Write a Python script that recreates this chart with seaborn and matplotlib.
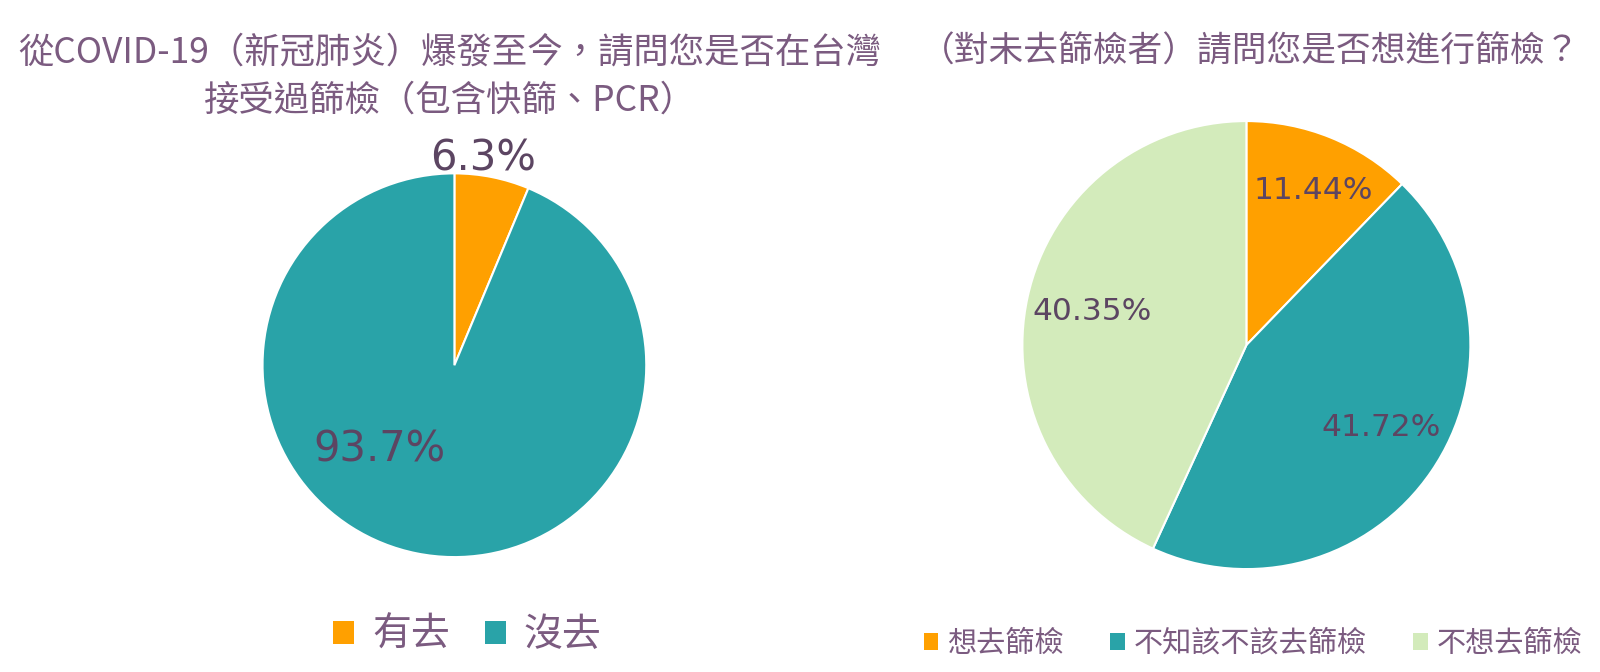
import matplotlib
matplotlib.use("Agg")
import matplotlib.pyplot as plt
from matplotlib.patches import Patch
import seaborn as sns

# 資料
left_labels = ["有去", "沒去"]
left_values = [6.3, 93.7]
right_labels = ["想去篩檢", "不知該不該去篩檢", "不想去篩檢"]
right_values = [11.44, 41.72, 40.35]

left_title = "從COVID-19（新冠肺炎）爆發至今，請問您是否在台灣\n接受過篩檢（包含快篩、PCR）"
right_title = "（對未去篩檢者）請問您是否想進行篩檢？"

colors = sns.color_palette(["#FFA000", "#29A3A8", "#D3EBBB"])
title_color = "#7B5B80"
label_color = "#5C4562"

sns.set_theme(style="white")
plt.rcParams['font.family'] = ['Noto Sans CJK TC', 'DejaVu Sans']

fig = plt.figure(figsize=(16, 6.72), dpi=100)

# 左邊圓餅
ax1 = fig.add_axes([0.164, 0.171, 0.24, 0.571])
w1, _ = ax1.pie(left_values, colors=colors[:2], startangle=90, counterclock=False,
                wedgeprops=dict(edgecolor="white", linewidth=1.5))
ax1.set_xlim(-1, 1)
ax1.set_ylim(-1, 1)
ax1.set_aspect("equal")
ax1.axis("off")
left_pos = [(0.15, 1.08), (-0.39, -0.44)]
for v, (x, y) in zip(left_values, left_pos):
    ax1.text(x, y, f"{v}%", ha="center", va="center", fontsize=30,
             color=label_color, family="DejaVu Sans", clip_on=False)

# 右邊圓餅
ax2 = fig.add_axes([0.639, 0.153, 0.28, 0.667])
w2, _ = ax2.pie(right_values, colors=colors, startangle=90, counterclock=False,
                wedgeprops=dict(edgecolor="white", linewidth=1.5))
ax2.set_xlim(-1, 1)
ax2.set_ylim(-1, 1)
ax2.set_aspect("equal")
ax2.axis("off")
right_pos = [(0.30, 0.69), (0.60, -0.37), (-0.69, 0.15)]
for v, (x, y) in zip(right_values, right_pos):
    ax2.text(x, y, f"{v:.2f}%", ha="center", va="center", fontsize=22.5,
             color=label_color, family="DejaVu Sans", clip_on=False)

# 標題
fig.text(0.281, 0.886, left_title, ha="center", va="center", fontsize=25.5,
         color=title_color, linespacing=1.45)
fig.text(0.781, 0.922, right_title, ha="center", va="center", fontsize=25,
         color=title_color)

# 圖例
h1 = [Patch(facecolor=c, edgecolor="none") for c in colors[:2]]
fig.legend(h1, left_labels, loc="center", bbox_to_anchor=(0.292, 0.055), ncol=2,
           frameon=False, fontsize=28, handlelength=0.55, handleheight=0.55,
           handletextpad=0.45, columnspacing=0.9, labelcolor=title_color)
h2 = [Patch(facecolor=c, edgecolor="none") for c in colors]
fig.legend(h2, right_labels, loc="center", bbox_to_anchor=(0.783, 0.042), ncol=3,
           frameon=False, fontsize=21, handlelength=0.5, handleheight=0.5,
           handletextpad=0.3, columnspacing=1.6, labelcolor=title_color)

fig.savefig("out.png", dpi=100, facecolor="white")
